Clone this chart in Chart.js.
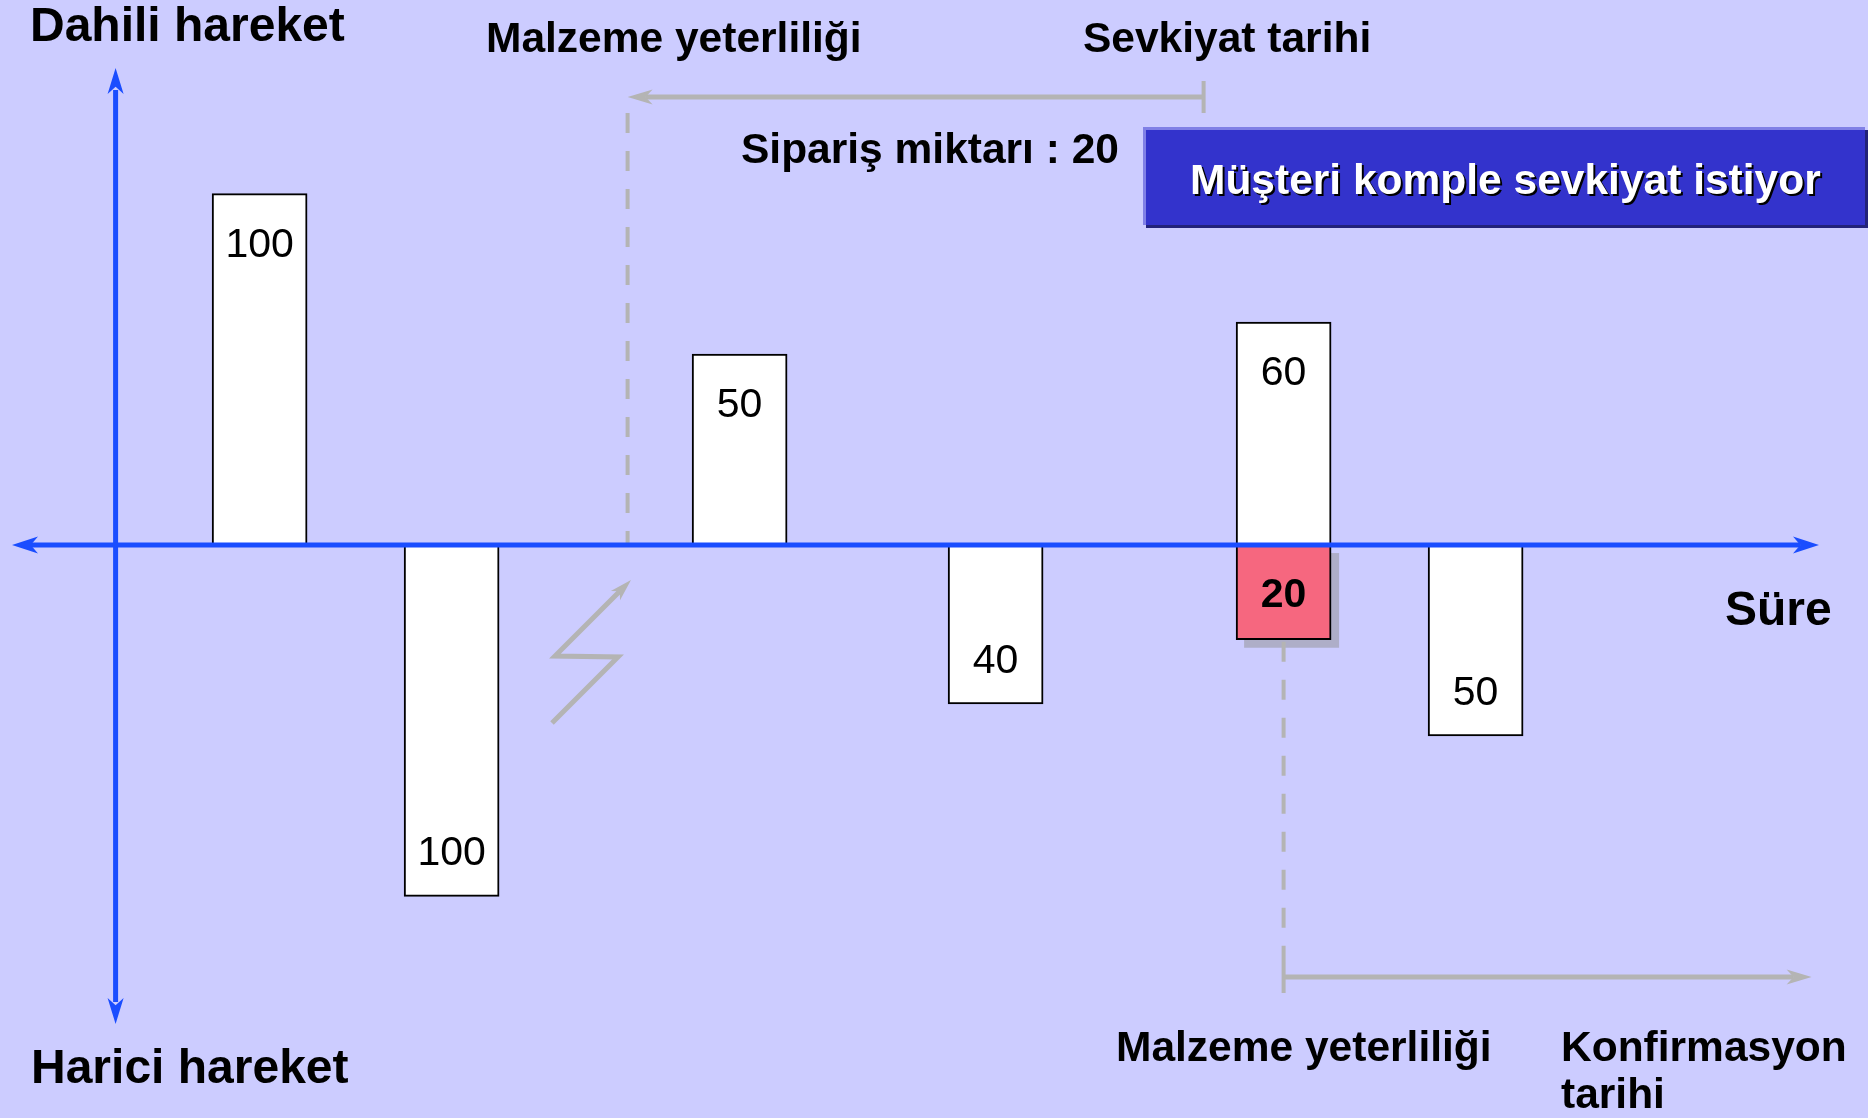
<!DOCTYPE html>
<html>
<head>
<meta charset="utf-8">
<script src="https://cdn.jsdelivr.net/npm/chart.js@4/dist/chart.umd.min.js"></script>
<style>
  html, body { margin: 0; padding: 0; background: #ccccff; }
  canvas { display: block; }
</style>
</head>
<body>
<canvas id="c" width="1868" height="1118"></canvas>
<script>
// ---- data ----
const receiptTimes = [9, 39, 73];        // Dahili hareket (incoming)
const receiptQty   = [100, 50, 60];
const issueTimes   = [21, 55, 85];       // Harici hareket (outgoing)
const issueQty     = [-100, -40, -50];
const orderTimes   = [73];               // Sipariş (customer order)
const orderQty     = [-20];

// time markers on the axis
const availabilityCheckTime = 32;   // Malzeme yeterliliği (top)
const shipDateTime          = 68;   // Sevkiyat tarihi
const availabilityTime      = 73;   // Malzeme yeterliliği (bottom)
const confirmationEndTime   = 106;  // Konfirmasyon tarihi

// visual gap added to each bar so small quantities remain visible (schematic diagram)
const BAR_GAP = 9.52;

class GapScale extends Chart.LinearScale {
  getPixelForValue(value, index) {
    const v = +value;
    const w = v > 0 ? v + BAR_GAP : (v < 0 ? v - BAR_GAP : 0);
    return super.getPixelForValue(w, index);
  }
}
GapScale.id = 'gap';
GapScale.defaults = {};
Chart.register(GapScale);

const FONT = '"Liberation Sans", Arial, Helvetica, sans-serif';
const BLUE = '#1a4dff';
const GREY = '#b4b4b4';

function arrowHead(ctx, x, y, angle, len, half, color) {
  ctx.save();
  ctx.translate(x, y);
  ctx.rotate(angle);
  ctx.beginPath();
  ctx.moveTo(0, 0);
  ctx.lineTo(-len, -half);
  ctx.lineTo(-len * 0.72, 0);
  ctx.lineTo(-len, half);
  ctx.closePath();
  ctx.fillStyle = color;
  ctx.fill();
  ctx.restore();
}
function line(ctx, x1, y1, x2, y2, color, w, dash) {
  ctx.save();
  ctx.beginPath();
  ctx.strokeStyle = color;
  ctx.lineWidth = w;
  ctx.setLineDash(dash || []);
  ctx.moveTo(x1, y1);
  ctx.lineTo(x2, y2);
  ctx.stroke();
  ctx.restore();
}
function text(ctx, s, x, y, font, color, align) {
  ctx.save();
  ctx.font = font;
  ctx.fillStyle = color || '#000';
  ctx.textAlign = align || 'left';
  ctx.textBaseline = 'alphabetic';
  ctx.fillText(s, x, y);
  ctx.restore();
}

const decorPlugin = {
  id: 'decor',
  beforeDraw(chart) {
    const ctx = chart.ctx;
    ctx.save();
    ctx.fillStyle = '#ccccff';
    ctx.fillRect(0, 0, chart.width, chart.height);
    ctx.restore();
  },
  beforeDatasetsDraw(chart) {
    // shadow of the customer-order bar
    const ctx = chart.ctx;
    const meta = chart.getDatasetMeta(2);
    meta.data.forEach(el => {
      const p = el.getProps(['x', 'y', 'base', 'width'], true);
      const top = Math.min(p.y, p.base), bot = Math.max(p.y, p.base);
      ctx.save();
      ctx.fillStyle = '#aeaec8';
      ctx.fillRect(p.x - p.width / 2 + 8, top + 8, p.width, bot - top);
      ctx.restore();
    });
  },
  afterDatasetsDraw(chart) {
    const ctx = chart.ctx;
    const xs = chart.scales.x, ys = chart.scales.y;
    const x0 = xs.getPixelForValue(0);
    const y0 = ys.getPixelForValue(0);

    // grey markers
    const xa = xs.getPixelForValue(availabilityCheckTime);
    const xs2 = xs.getPixelForValue(shipDateTime);
    line(ctx, xa, 113, xa, y0 - 2, GREY, 4, [20, 18]);
    line(ctx, xs2, 81, xs2, 113, GREY, 4);
    line(ctx, xs2, 97, xa + 18, 97, GREY, 5);
    arrowHead(ctx, xa, 97, Math.PI, 25, 7.5, GREY);

    const xb = xs.getPixelForValue(availabilityTime);
    const xc = xs.getPixelForValue(confirmationEndTime);
    const redBottom = ys.getPixelForValue(orderQty[0]);
    line(ctx, xb, redBottom + 2, xb, 962, GREY, 4, [20, 18]);
    line(ctx, xb, 962, xb, 993, GREY, 4);
    line(ctx, xb, 977, xc - 18, 977, GREY, 5);
    arrowHead(ctx, xc, 977, 0, 25, 7.5, GREY);

    // lightning (disruption)
    ctx.save();
    ctx.strokeStyle = GREY;
    ctx.lineWidth = 5;
    ctx.lineJoin = 'miter';
    ctx.beginPath();
    ctx.moveTo(552, 723);
    ctx.lineTo(618, 657);
    ctx.lineTo(555, 656);
    ctx.lineTo(622, 589);
    ctx.stroke();
    ctx.restore();
    arrowHead(ctx, 631, 580, -Math.PI / 4, 22, 6.5, GREY);

    // blue axes
    line(ctx, x0, 90, x0, 1002, BLUE, 5);
    arrowHead(ctx, x0, 68, -Math.PI / 2, 26, 8, BLUE);
    arrowHead(ctx, x0, 1024, Math.PI / 2, 26, 8, BLUE);
    line(ctx, 30, y0, 1800, y0, BLUE, 5);
    arrowHead(ctx, 12, y0, Math.PI, 26, 8.5, BLUE);
    arrowHead(ctx, 1819, y0, 0, 26, 8.5, BLUE);

    // bar value labels
    [0, 1, 2].forEach(di => {
      const meta = chart.getDatasetMeta(di);
      const vals = chart.data.datasets[di].data;
      meta.data.forEach((el, i) => {
        const p = el.getProps(['x', 'y', 'base'], true);
        const v = Math.abs(vals[i].y);
        const up = p.y < p.base;
        const by = up ? p.y + 63 : p.y - (di === 2 ? 33 : 31);
        const f = (di === 2 ? 'bold ' : '') + '41px ' + FONT;
        text(ctx, String(v), p.x, by, f, '#000', 'center');
      });
    });

    // texts
    const B48 = 'bold 48px ' + FONT;
    const B42 = 'bold 42.5px ' + FONT;
    text(ctx, 'Dahili hareket', 30, 41, B48);
    text(ctx, 'Harici hareket', 31, 1083, B48);
    text(ctx, 'Süre', 1725, 625, B48);
    text(ctx, 'Malzeme yeterliliği', 486, 52, B42);
    text(ctx, 'Sevkiyat tarihi', 1083, 52, B42);
    text(ctx, 'Sipariş miktarı : 20', 741, 163, B42);
    text(ctx, 'Malzeme yeterliliği', 1116, 1061, B42);
    text(ctx, 'Konfirmasyon', 1561, 1061, B42);
    text(ctx, 'tarihi', 1561, 1108, B42);

    // note box
    ctx.save();
    ctx.fillStyle = '#22227a';
    ctx.fillRect(1146, 130, 722, 98);
    ctx.fillStyle = '#8080e6';
    ctx.fillRect(1143, 127, 722, 98);
    ctx.fillStyle = '#3333cc';
    ctx.fillRect(1146, 130, 719, 95);
    ctx.restore();
    text(ctx, 'Müşteri komple sevkiyat istiyor', 1192, 195.5, B42, '#000');
    text(ctx, 'Müşteri komple sevkiyat istiyor', 1190, 193.5, B42, '#ffffff');
  }
};

const barStyle = {
  borderColor: '#000',
  borderWidth: 2,
  borderSkipped: false,
  barThickness: 95,
  grouped: false
};

new Chart(document.getElementById('c'), {
  type: 'bar',
  data: {
    datasets: [
      Object.assign({
        label: 'Dahili hareket',
        data: receiptTimes.map((t, i) => ({ x: t, y: receiptQty[i] })),
        backgroundColor: '#ffffff'
      }, barStyle),
      Object.assign({
        label: 'Harici hareket',
        data: issueTimes.map((t, i) => ({ x: t, y: issueQty[i] })),
        backgroundColor: '#ffffff'
      }, barStyle),
      Object.assign({
        label: 'Sipariş miktarı',
        data: orderTimes.map((t, i) => ({ x: t, y: orderQty[i] })),
        backgroundColor: '#f6677f'
      }, barStyle)
    ]
  },
  options: {
    responsive: false,
    animation: false,
    layout: { padding: 0 },
    plugins: { legend: { display: false }, tooltip: { enabled: false } },
    scales: {
      x: { type: 'linear', min: -7.225, max: 109.525, display: false, offset: false, grid: { display: false } },
      y: { type: 'gap', min: -178.6, max: 169.9, display: false, grid: { display: false } }
    }
  },
  plugins: [decorPlugin]
});
</script>
</body>
</html>
